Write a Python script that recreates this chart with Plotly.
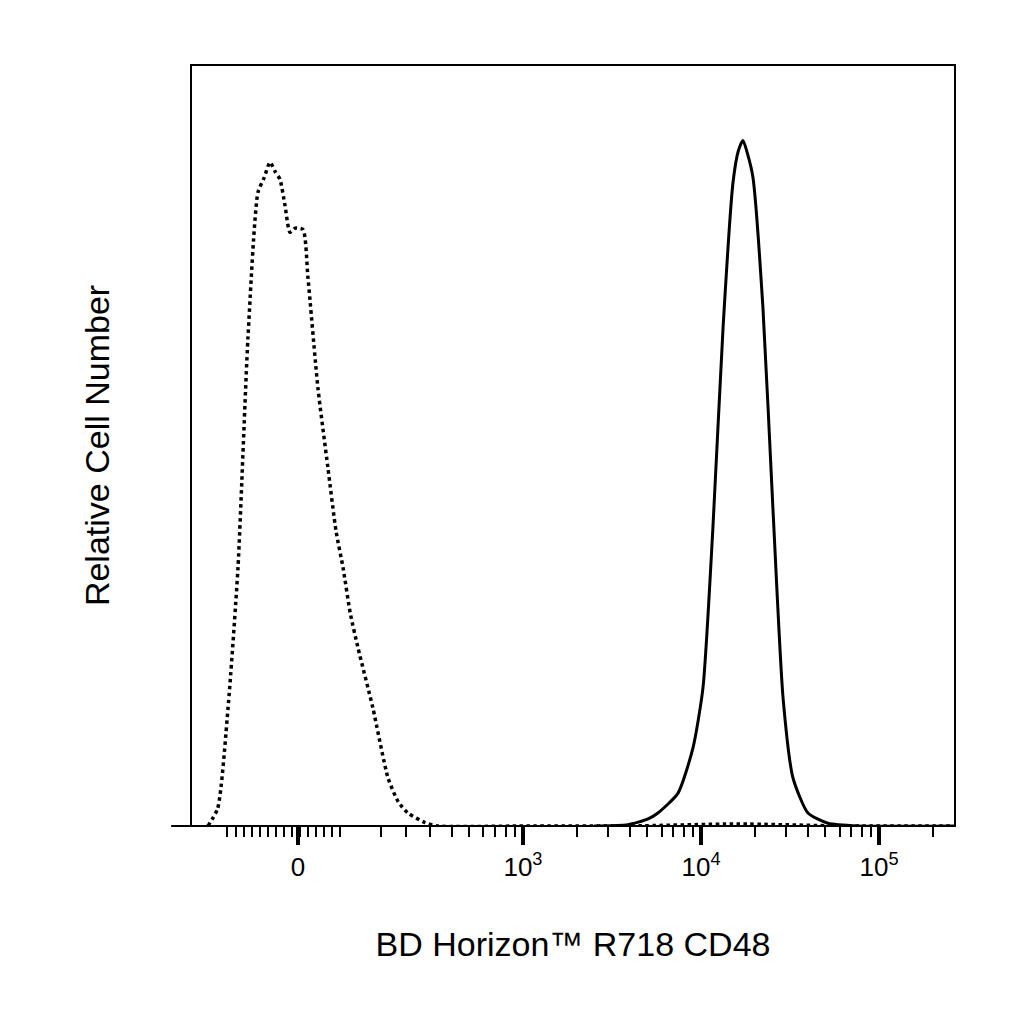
"""Flow histogram: BD Horizon R718 CD48, biexponential display axis."""

import numpy as np
import plotly.graph_objects as go

# x in display units (decades: 3 -> 10^3, 4 -> 10^4, 5 -> 10^5; 0 sits at ~1.74)
ISO_X = [1.23, 1.285, 1.343, 1.399, 1.455, 1.511, 1.545, 1.579, 1.607, 1.635,
         1.663, 1.691, 1.72, 1.764, 1.792, 1.848, 1.904, 1.95, 1.989, 2.03,
         2.073, 2.157, 2.242, 2.3, 2.354, 2.45, 2.522, 3.0, 3.6, 4.2, 4.8, 5.42]
ISO_Y = [0, 2.6, 17.2, 37.7, 71.2, 92.4, 94.5, 96.8, 95.5, 94.3,
         90.5, 86.6, 87.2, 87.0, 80.0, 63.9, 52.3, 43.0, 37.7, 31.0,
         26.0, 17.2, 7.0, 3.5, 1.9, 0.5, 0, 0, 0, 0.3, 0, 0]

CD48_X = [3.4, 3.59, 3.7, 3.758, 3.871, 3.955, 4.011, 4.067, 4.124, 4.18,
          4.21, 4.236, 4.262, 4.292, 4.348, 4.404, 4.461, 4.517, 4.601, 4.713,
          4.882, 5.42]
CD48_Y = [0, 0.2, 1.0, 1.9, 4.8, 11.4, 20.1, 43.5, 72.7, 93.9,
          98.5, 100, 98.0, 94.6, 75.6, 46.4, 18.7, 7.0, 1.9, 0.4,
          0, 0]

TICK_VALS = [1.736, 3, 4, 5]
TICK_TEXT = ["0", "10<sup>3</sup>", "10<sup>4</sup>", "10<sup>5</sup>"]

# minor ticks: linear region around zero plus log minors
minor = list(np.arange(1.34, 2.01, 0.045))
for d in (2, 3, 4, 5):
    for k in range(2, 10):
        v = d + np.log10(k)
        if 2.45 < v < 5.42:
            minor.append(v)
minor += [2.2, 2.34]

fig = go.Figure()
fig.add_trace(go.Scatter(x=ISO_X, y=ISO_Y, mode="lines",
                         line=dict(color="black", width=3.5, dash="dot",
                                   shape="spline", smoothing=0.6),
                         showlegend=False))
fig.add_trace(go.Scatter(x=CD48_X, y=CD48_Y, mode="lines",
                         line=dict(color="black", width=3,
                                   shape="spline", smoothing=0.6),
                         showlegend=False))

fig.update_layout(
    width=1024, height=1024,
    margin=dict(l=183, r=77, t=57, b=206, autoexpand=False),
    plot_bgcolor="white", paper_bgcolor="white",
    font=dict(family="Liberation Sans, Arial, sans-serif", color="black"),
    xaxis=dict(
        range=[1.135, 5.427], showgrid=False, zeroline=False, automargin=False,
        tickmode="array", tickvals=TICK_VALS, ticktext=TICK_TEXT,
        ticks="outside", ticklen=18, tickwidth=4, tickcolor="black",
        tickfont=dict(size=26),
        minor=dict(tickmode="array", tickvals=minor, ticks="outside",
                   ticklen=10, tickwidth=2, tickcolor="black"),
        showline=False,
        title=dict(text="BD Horizon™ R718 CD48", font=dict(size=34), standoff=50),
    ),
    yaxis=dict(
        range=[0, 111], showgrid=False, zeroline=False, automargin=False,
        showticklabels=False, ticks="",
        title=dict(text="Relative Cell Number", font=dict(size=34), standoff=70),
    ),
    shapes=[
        dict(type="rect", xref="paper", yref="paper", x0=0, x1=1, y0=0, y1=1,
             line=dict(color="black", width=2)),
        dict(type="line", xref="paper", yref="paper", x0=-0.026, x1=1, y0=0, y1=0,
             line=dict(color="black", width=2)),
    ],
)

fig.write_html("out.html")
